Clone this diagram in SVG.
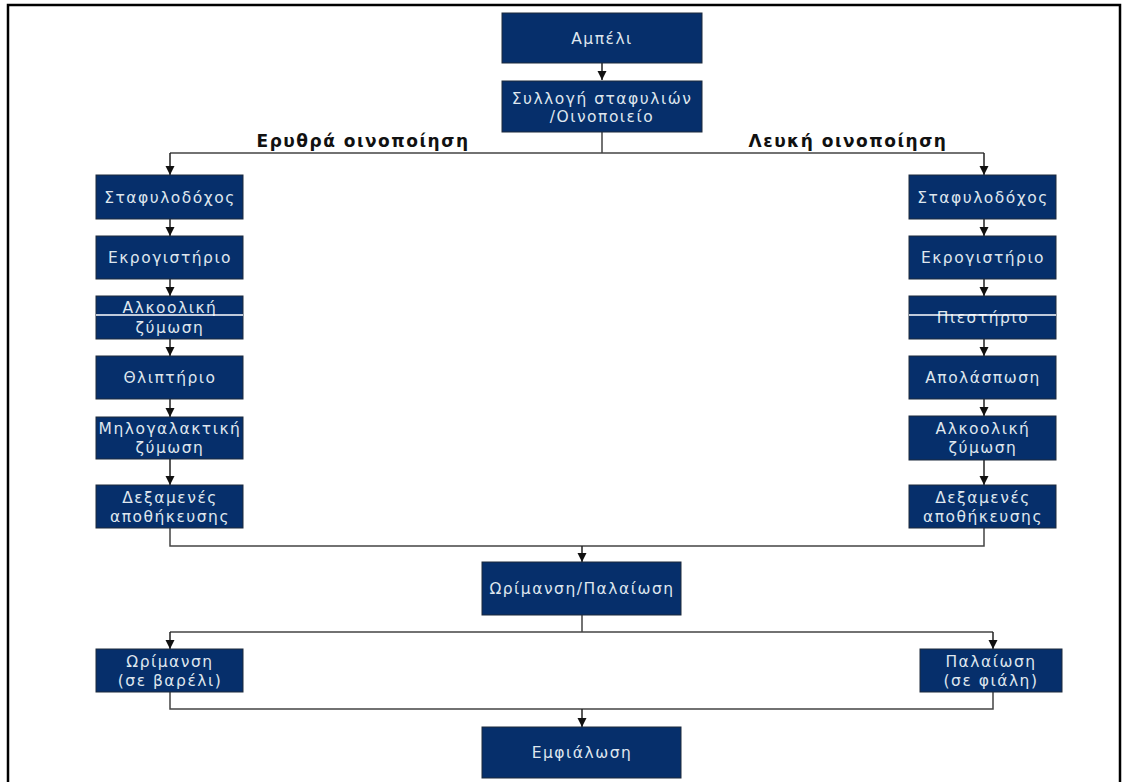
<svg xmlns="http://www.w3.org/2000/svg" width="1128" height="782" viewBox="0 0 1128 782">
  <defs>
    <style>
      .box { fill: #062f6b; stroke: #1c2a3c; stroke-width: 1; }
      .lbl { font-family: "DejaVu Sans", Verdana, sans-serif; font-size: 15.5px; letter-spacing: 1.5px; fill: #dfe6ee; text-anchor: middle; }
      .head { font-family: "DejaVu Sans", Verdana, sans-serif; font-size: 17px; font-weight: bold; letter-spacing: 1.5px; fill: #111; text-anchor: middle; }
      .wire { fill: none; stroke: #444; stroke-width: 1.5; }
      .arr { fill: none; stroke: #222; stroke-width: 1.5; marker-end: url(#tri); }
      .frame { fill: none; stroke: #000; stroke-width: 2.5; }
      .split { stroke: #fff; stroke-width: 1.5; }
    </style>
    <marker id="tri" viewBox="0 0 10 10" refX="10" refY="5" markerWidth="9" markerHeight="10" markerUnits="userSpaceOnUse" orient="auto">
      <path d="M0,0 L10,5 L0,10 Z" fill="#111"/>
    </marker>
  </defs>
  <rect width="1128" height="782" fill="#fff"/>
  <!-- page frame -->
  <path class="frame" d="M8,782 V5 H1120 V782"/>

  <!-- branch headings -->
  <text class="head" x="363" y="147">Ερυθρά οινοποίηση</text>
  <text class="head" x="848" y="147">Λευκή οινοποίηση</text>

  <!-- connectors -->
  <g id="connectors">
    <path class="arr" d="M602,63 V80"/>
    <path class="wire" d="M602,132 V153 M170,153 H984"/>
    <path class="arr" d="M170,153 V175"/>
    <path class="arr" d="M984,153 V175"/>
    <!-- red-wine column -->
    <path class="arr" d="M170,219 V236"/>
    <path class="arr" d="M170,279 V296"/>
    <path class="arr" d="M170,339 V356"/>
    <path class="arr" d="M170,399 V417"/>
    <path class="arr" d="M170,459 V485"/>
    <!-- white-wine column -->
    <path class="arr" d="M984,219 V236"/>
    <path class="arr" d="M984,279 V296"/>
    <path class="arr" d="M984,339 V356"/>
    <path class="arr" d="M984,399 V416"/>
    <path class="arr" d="M984,460 V485"/>
    <!-- merge into ageing -->
    <path class="wire" d="M170,528 V546 H984 V528"/>
    <path class="arr" d="M582,546 V562"/>
    <!-- split into barrel / bottle -->
    <path class="wire" d="M582,615 V632 M170,632 H993"/>
    <path class="arr" d="M170,632 V649"/>
    <path class="arr" d="M993,632 V649"/>
    <!-- merge into bottling -->
    <path class="wire" d="M170,692 V709 H993 V692"/>
    <path class="arr" d="M582,709 V727"/>
  </g>

  <g id="n-ampeli">
    <rect class="box" x="502" y="13" width="200" height="50"/>
    <text class="lbl" x="602" y="44">Αμπέλι</text>
  </g>
  <g id="n-syllogi">
    <rect class="box" x="502" y="81" width="200" height="51"/>
    <text class="lbl" x="602" y="104">Συλλογή σταφυλιών</text>
    <text class="lbl" x="602" y="122">/Οινοποιείο</text>
  </g>

  <!-- red wine -->
  <g id="n-r-stafylodochos">
    <rect class="box" x="96" y="175" width="147" height="44"/>
    <text class="lbl" x="170" y="203">Σταφυλοδόχος</text>
  </g>
  <g id="n-r-ekrogistirio">
    <rect class="box" x="96" y="236" width="147" height="43"/>
    <text class="lbl" x="170" y="263">Εκρογιστήριο</text>
  </g>
  <g id="n-r-alkooliki">
    <rect class="box" x="96" y="296" width="147" height="43"/>
    <text class="lbl" x="170" y="313">Αλκοολική</text>
    <text class="lbl" x="170" y="333">ζύμωση</text>
    <line class="split" x1="96" y1="315" x2="243" y2="315"/>
  </g>
  <g id="n-r-thliptirio">
    <rect class="box" x="96" y="356" width="147" height="43"/>
    <text class="lbl" x="170" y="383">Θλιπτήριο</text>
  </g>
  <g id="n-r-milogalaktiki">
    <rect class="box" x="96" y="417" width="147" height="42"/>
    <text class="lbl" x="170" y="434">Μηλογαλακτική</text>
    <text class="lbl" x="170" y="453">ζύμωση</text>
  </g>
  <g id="n-r-dexamenes">
    <rect class="box" x="96" y="485" width="147" height="43"/>
    <text class="lbl" x="170" y="503">Δεξαμενές</text>
    <text class="lbl" x="170" y="522">αποθήκευσης</text>
  </g>

  <!-- white wine -->
  <g id="n-w-stafylodochos">
    <rect class="box" x="909" y="175" width="147" height="44"/>
    <text class="lbl" x="983" y="203">Σταφυλοδόχος</text>
  </g>
  <g id="n-w-ekrogistirio">
    <rect class="box" x="909" y="236" width="147" height="43"/>
    <text class="lbl" x="983" y="263">Εκρογιστήριο</text>
  </g>
  <g id="n-w-piestirio">
    <rect class="box" x="909" y="296" width="147" height="43"/>
    <text class="lbl" x="983" y="323">Πιεστήριο</text>
    <line class="split" x1="909" y1="315" x2="1056" y2="315"/>
  </g>
  <g id="n-w-apolaspwsi">
    <rect class="box" x="909" y="356" width="147" height="43"/>
    <text class="lbl" x="983" y="383">Απολάσπωση</text>
  </g>
  <g id="n-w-alkooliki">
    <rect class="box" x="909" y="416" width="147" height="44"/>
    <text class="lbl" x="983" y="434">Αλκοολική</text>
    <text class="lbl" x="983" y="453">ζύμωση</text>
  </g>
  <g id="n-w-dexamenes">
    <rect class="box" x="909" y="485" width="147" height="43"/>
    <text class="lbl" x="983" y="503">Δεξαμενές</text>
    <text class="lbl" x="983" y="522">αποθήκευσης</text>
  </g>

  <g id="n-orimansi-palaiosi">
    <rect class="box" x="482" y="562" width="199" height="53"/>
    <text class="lbl" x="582" y="594">Ωρίμανση/Παλαίωση</text>
  </g>
  <g id="n-barel">
    <rect class="box" x="96" y="649" width="147" height="43"/>
    <text class="lbl" x="170" y="667">Ωρίμανση</text>
    <text class="lbl" x="170" y="686">(σε βαρέλι)</text>
  </g>
  <g id="n-fiali">
    <rect class="box" x="920" y="649" width="142" height="43"/>
    <text class="lbl" x="991" y="667">Παλαίωση</text>
    <text class="lbl" x="991" y="686">(σε φιάλη)</text>
  </g>
  <g id="n-emfialosi">
    <rect class="box" x="482" y="727" width="199" height="51"/>
    <text class="lbl" x="582" y="758">Εμφιάλωση</text>
  </g>
</svg>
